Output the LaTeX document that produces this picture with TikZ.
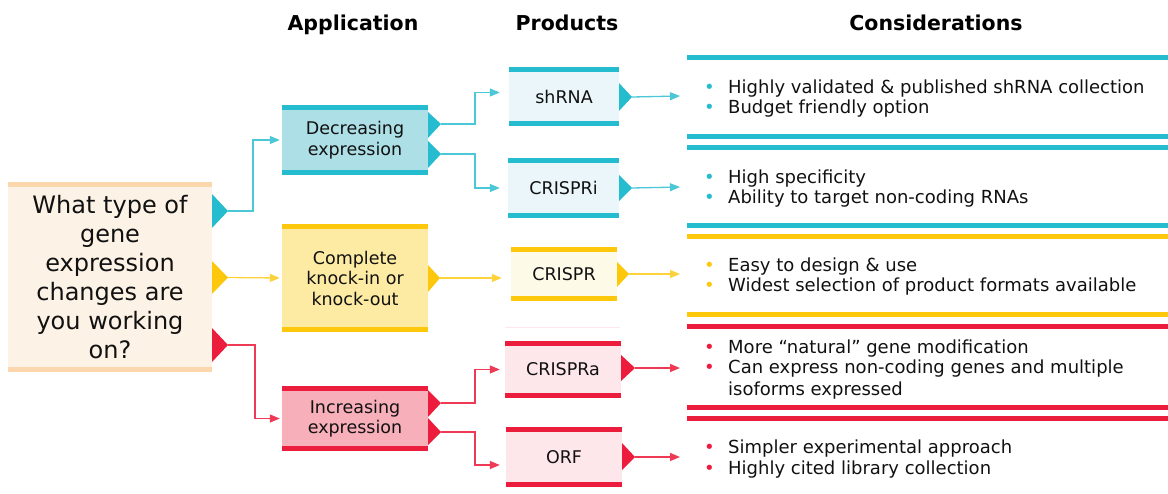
\documentclass[tikz,border=0pt]{standalone}
\usepackage{fontspec}
\setmainfont{DejaVu Sans}
\usetikzlibrary{arrows.meta}
\definecolor{tealc}{HTML}{25BCCF}
\definecolor{tealline}{HTML}{4CC7D7}
\definecolor{decfill}{HTML}{ADDFE7}
\definecolor{prodtfill}{HTML}{EAF6FA}
\definecolor{yelc}{HTML}{FDC70C}
\definecolor{yelline}{HTML}{FDD23C}
\definecolor{cmpfill}{HTML}{FDEBA3}
\definecolor{prodyfill}{HTML}{FEFAE8}
\definecolor{redc}{HTML}{EC1C3D}
\definecolor{redline}{HTML}{EE3A55}
\definecolor{incfill}{HTML}{F7AFBA}
\definecolor{prodrfill}{HTML}{FDE7EB}
\definecolor{peachbar}{HTML}{FCD7AE}
\definecolor{peachfill}{HTML}{FDF2E6}
\definecolor{txtc}{HTML}{111111}
\newcommand\mybul[1]{\makebox[24pt][l]{\textcolor{#1}{•}}}
\begin{document}
\begin{tikzpicture}[x=1pt,y=-1pt,
  barbox/.style 2 args={fill=#1, draw=none, inner sep=0pt, align=center, text=txtc,
    font=\fontsize{17.5}{20.5}\selectfont,
    path picture={
      \fill[#2] (path picture bounding box.north west) rectangle ([yshift=-5pt]path picture bounding box.north east);
      \fill[#2] (path picture bounding box.south west) rectangle ([yshift=5pt]path picture bounding box.south east);
    }},
  conn/.style={line width=1.3pt, -{Triangle[length=10pt,width=8pt]}},
  hdr/.style={font=\bfseries\fontsize{20.5}{24}\selectfont, anchor=base, inner sep=0pt},
  cons/.style={font=\fontsize{18}{21}\selectfont, anchor=base west, inner sep=0pt, text=txtc},
]
\useasboundingbox (0,0) rectangle (1168,493);

% headers
\node[hdr] (h1) at (353,30) {Application};
\node[hdr] (h2) at (567,30) {Products};
\node[hdr] (h3) at (936,30) {Considerations};

% main question
\node[barbox={peachfill}{peachbar}, minimum width=204pt, minimum height=190pt,
  font=\fontsize{24}{29}\selectfont] (q) at (110,277)
  {What type of\\gene\\expression\\changes are\\you working\\on?};
\fill[tealc] (212,194) -- (228,211) -- (212,228) -- cycle;
\fill[yelc] (212,261) -- (228,277.5) -- (212,294) -- cycle;
\fill[redc] (212,328) -- (228,345) -- (212,362) -- cycle;
\coordinate (mt1) at (228,211);
\coordinate (mt2) at (228,277.5);
\coordinate (mt3) at (228,345);

% application boxes
\node[barbox={decfill}{tealc}, minimum width=146pt, minimum height=70pt] (dec) at (355,140) {Decreasing\\expression};
\node[barbox={cmpfill}{yelc}, minimum width=146pt, minimum height=108pt] (cmp) at (355,278) {Complete\\knock-in or\\knock-out};
\node[barbox={incfill}{redc}, minimum width=146pt, minimum height=65pt] (inc) at (355,418.5) {Increasing\\expression};

\fill[tealc] (428,112) -- (441,124) -- (428,138) -- cycle;
\fill[tealc] (428,141) -- (441,154) -- (428,168) -- cycle;
\fill[yelc] (428,265) -- (440,278) -- (428,292) -- cycle;
\fill[redc] (428,390) -- (441,403) -- (428,417) -- cycle;
\fill[redc] (428,418) -- (441,432) -- (428,445) -- cycle;
\coordinate (dt1) at (441,124);
\coordinate (dt2) at (441,154);
\coordinate (ct) at (440,278);
\coordinate (it1) at (441,403);
\coordinate (it2) at (441,432);

% product boxes
\node[barbox={prodtfill}{tealc}, minimum width=110pt, minimum height=59pt] (shrna) at (564,96.5) {shRNA};
\node[barbox={prodtfill}{tealc}, minimum width=111pt, minimum height=60pt] (crispri) at (563.5,188) {CRISPRi};
\node[barbox={prodyfill}{yelc}, minimum width=106pt, minimum height=54pt] (crispr) at (564,274) {CRISPR};
\node[barbox={prodrfill}{redc}, minimum width=116pt, minimum height=57pt] (crispra) at (563,369.5) {CRISPRa};
\node[barbox={prodrfill}{redc}, minimum width=116pt, minimum height=60pt] (orf) at (564,457) {ORF};
\draw[prodrfill, line width=1pt] (505,327) -- (620,327);

\fill[tealc] (619,83) -- (632,97) -- (619,111) -- cycle;
\fill[tealc] (619,175) -- (632,188) -- (619,201) -- cycle;
\fill[yelc] (617,262) -- (629,274) -- (617,287) -- cycle;
\fill[redc] (621,355) -- (635,368) -- (621,381) -- cycle;
\fill[redc] (622,443) -- (635,457) -- (622,470) -- cycle;
\coordinate (pt1) at (632,97);
\coordinate (pt2) at (632,188);
\coordinate (pt3) at (629,274);
\coordinate (pt4) at (635,368);
\coordinate (pt5) at (635,457);
\coordinate (k1) at (680,96);
\coordinate (k2) at (680,187);
\coordinate (k3) at (680,274);
\coordinate (k4) at (680,368);
\coordinate (k5) at (680,457);

% connectors
\draw[conn, tealline] (mt1) -- ++(25,0) |- ([xshift=-2pt]dec.west);
\draw[conn, yelline] (mt2) -- ([xshift=-2pt]cmp.west);
\draw[conn, redline] (mt3) -- ++(27,0) |- ([xshift=-2pt]inc.west);
\draw[conn, tealline] (dt1) -- ++(34,0) |- ([xshift=-9pt,yshift=4pt]shrna.west);
\draw[conn, tealline] (dt2) -- ++(34,0) |- ([xshift=-8pt]crispri.west);
\draw[conn, yelline, shorten >=9pt] (ct) -- (ct -| crispr.west);
\draw[conn, redline] (it1) -- ++(34,0) |- ([xshift=-5pt]crispra.west);
\draw[conn, redline] (it2) -- ++(34,0) |- ([xshift=-6pt,yshift=-8pt]orf.west);
\draw[conn, tealline] (pt1) -- (k1);
\draw[conn, tealline] (pt2) -- (k2);
\draw[conn, yelline] (pt3) -- (k3);
\draw[conn, redline] (pt4) -- (k4);
\draw[conn, redline] (pt5) -- (k5);

% consideration bars
\fill[tealc] (687,55) rectangle (1168,59.5);
\fill[tealc] (687,134) rectangle (1168,138.5);
\fill[tealc] (687,145) rectangle (1168,149.5);
\fill[tealc] (687,223) rectangle (1168,227.5);
\fill[yelc] (687,234) rectangle (1168,238.5);
\fill[yelc] (687,312) rectangle (1168,316.5);
\fill[redc] (687,324) rectangle (1168,328.5);
\fill[redc] (687,405) rectangle (1168,409.5);
\fill[redc] (687,416) rectangle (1168,420.5);

% consideration texts
\node[cons] (c1a) at (704,93) {\mybul{tealc}Highly validated \& published shRNA collection};
\node[cons] (c1b) at (704,113) {\mybul{tealc}Budget friendly option};
\node[cons] (c2a) at (704,183) {\mybul{tealc}High specificity};
\node[cons] (c2b) at (704,203) {\mybul{tealc}Ability to target non-coding RNAs};
\node[cons] (c3a) at (704,271) {\mybul{yelc}Easy to design \& use};
\node[cons] (c3b) at (704,291) {\mybul{yelc}Widest selection of product formats available};
\node[cons] (c4a) at (704,353) {\mybul{redc}More “natural” gene modification};
\node[cons] (c4b) at (704,373.5) {\mybul{redc}Can express non-coding genes and multiple};
\node[cons] (c4c) at (728,395) {isoforms expressed};
\node[cons] (c5a) at (704,453) {\mybul{redc}Simpler experimental approach};
\node[cons] (c5b) at (704,474) {\mybul{redc}Highly cited library collection};
\end{tikzpicture}
\end{document}
